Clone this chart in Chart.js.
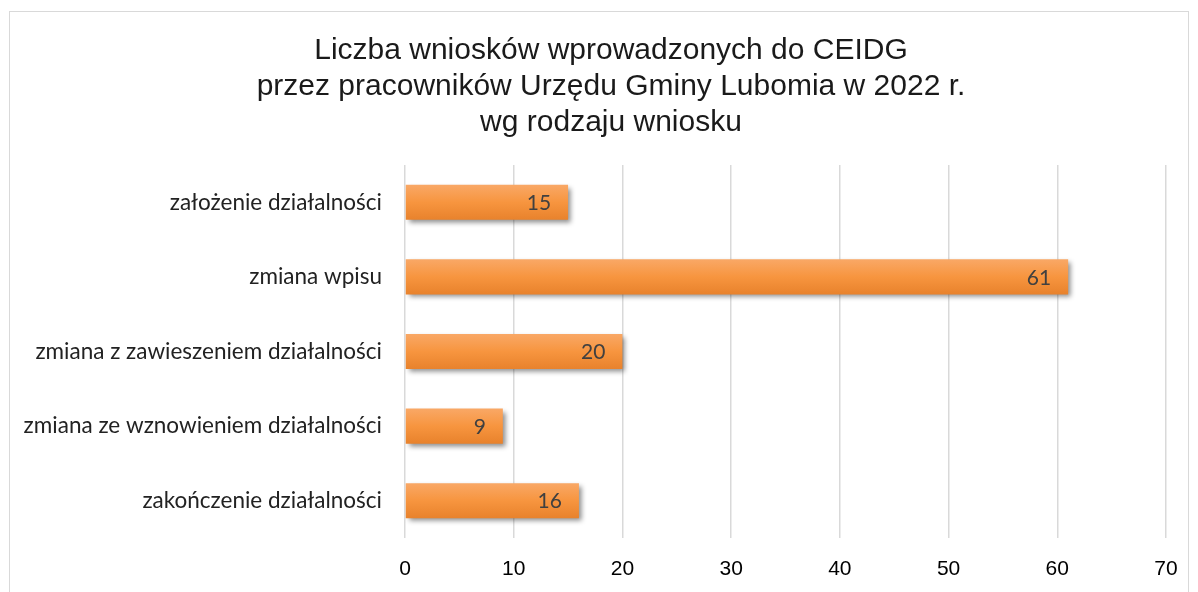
<!DOCTYPE html>
<html>
<head>
<meta charset="utf-8">
<script src="https://cdn.jsdelivr.net/npm/chart.js@4"></script>
<style>
  html, body { margin: 0; padding: 0; background: #fff; overflow: hidden; }
  #frame { position: absolute; left: 9px; top: 11px; width: 1178px; height: 620px; border: 1.5px solid #d9d9d9; }
  #wrap { position: absolute; left: 0; top: 0; width: 1198px; height: 592px; }
</style>
</head>
<body>
<div id="frame"></div>
<div id="wrap"><canvas id="myChart" width="1198" height="592"></canvas></div>
<script>
const categories = [
  "założenie działalności",
  "zmiana wpisu",
  "zmiana z zawieszeniem działalności",
  "zmiana ze wznowieniem działalności",
  "zakończenie działalności"
];
const counts = [15, 61, 20, 9, 16];
const titleLines = [
  "Liczba wniosków wprowadzonych do CEIDG",
  "przez pracowników Urzędu Gminy Lubomia w 2022 r.",
  "wg rodzaju wniosku"
];
const barPct = 0.47;

// orange gradient per bar, lighter on top
function barGradient(ctx) {
  const chart = ctx.chart;
  const y = chart.scales.y;
  if (!y || ctx.dataIndex === undefined) return "#f79646";
  const c = y.getPixelForValue(ctx.dataIndex);
  const half = (y.height / categories.length) * barPct / 2;
  if (!Number.isFinite(c) || !Number.isFinite(half) || half <= 0) return "#f79646";
  const g = chart.ctx.createLinearGradient(0, c - half, 0, c + half);
  g.addColorStop(0, "#f9a866");
  g.addColorStop(0.5, "#f7953f");
  g.addColorStop(1, "#e8822c");
  return g;
}

const shadowPlugin = {
  id: "barShadow",
  beforeDatasetDraw(chart) {
    const c = chart.ctx;
    c.save();
    c.shadowColor = "rgba(0,0,0,0.45)";
    c.shadowBlur = 5;
    c.shadowOffsetX = 3;
    c.shadowOffsetY = 3;
  },
  afterDatasetDraw(chart) {
    chart.ctx.restore();
  }
};

const valueLabels = {
  id: "valueLabels",
  afterDatasetsDraw(chart) {
    const c = chart.ctx;
    const meta = chart.getDatasetMeta(0);
    c.save();
    c.font = "21px Lato, 'Noto Sans', sans-serif";
    c.fillStyle = "#404040";
    c.textAlign = "right";
    c.textBaseline = "middle";
    meta.data.forEach(function (bar, i) {
      c.fillText(String(counts[i]), bar.x - 17, bar.y + 1);
    });
    c.restore();
  }
};

// title is centred a bit right of the canvas middle, so draw it by hand
const titleText = {
  id: "titleText",
  afterDraw(chart) {
    const c = chart.ctx;
    c.save();
    c.font = "30px 'Liberation Sans', Arial, sans-serif";
    c.fillStyle = "#1a1a1a";
    c.textAlign = "center";
    c.textBaseline = "middle";
    titleLines.forEach(function (line, i) {
      c.fillText(line, 611, 51 + i * 36);
    });
    c.restore();
  }
};

const chart = new Chart("myChart", {
  type: "bar",
  data: {
    labels: categories,
    datasets: [{
      data: counts,
      backgroundColor: barGradient,
      borderWidth: 0,
      barPercentage: barPct,
      categoryPercentage: 1
    }]
  },
  plugins: [shadowPlugin, valueLabels, titleText],
  options: {
    indexAxis: "y",
    responsive: false,
    animation: false,
    layout: { padding: { left: 0, right: 32, top: 165, bottom: 0 } },
    plugins: {
      legend: { display: false },
      tooltip: { enabled: false },
      title: { display: false }
    },
    scales: {
      x: {
        min: 0,
        max: 70,
        ticks: {
          stepSize: 10,
          color: "#000",
          padding: 19,
          font: { family: "'Liberation Sans', Arial, sans-serif", size: 21 }
        },
        grid: { color: "#d9d9d9", lineWidth: 1.5, drawTicks: false },
        border: { display: false },
        afterFit(scale) { scale.height = 54; }
      },
      y: {
        ticks: {
          color: "#222",
          padding: 23,
          font: { family: "Lato, 'Noto Sans', sans-serif", size: 22.5 }
        },
        grid: { display: false, drawTicks: false },
        border: { display: false },
        afterFit(scale) { scale.width = 405; }
      }
    }
  }
});
// re-run so the gradients see the finished layout
chart.update();
</script>
</body>
</html>
